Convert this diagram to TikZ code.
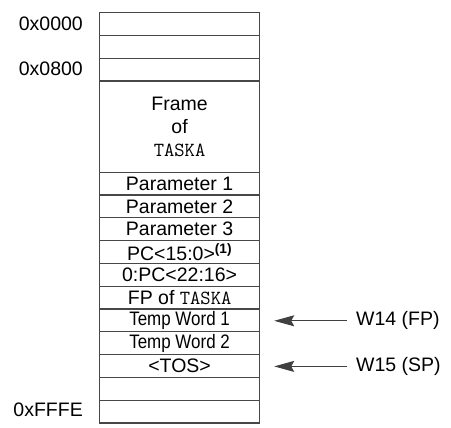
\documentclass[tikz,border=0pt]{standalone}
\usepackage{fontspec}
\setmainfont{Liberation Sans}
\usetikzlibrary{arrows.meta}
\begin{document}
\begin{tikzpicture}[x=1pt,y=-1pt,
  cell/.style={draw=black!72,line width=1.2pt,minimum width=160pt,minimum height=22.8pt,inner sep=0pt,anchor=north west,font=\fontsize{19.5}{22}\selectfont},
  addr/.style={anchor=east,inner sep=0pt,font=\fontsize{19.5}{22}\selectfont},
  ptr/.style={anchor=west,inner sep=0pt,font=\fontsize{19.5}{22}\selectfont},
  ptrarrow/.style={draw=black!75,line width=1pt,-{Stealth[length=20pt,width=11pt,inset=3pt]}}]
\useasboundingbox (0,0) rectangle (451,428);
\def\rh{22.8}
\newcommand\mytt[1]{{\ttfamily\fontsize{20}{22}\selectfont #1}}
\node[cell] (r1) at (99,12) {};
\node[cell] (r2) at (99,{12+1*\rh}) {};
\node[cell] (r3) at (99,{12+2*\rh}) {};
\node[cell,minimum height=91.2pt,align=center,font=\fontsize{19.5}{23}\selectfont] (frame) at (99,{12+3*\rh}) {Frame\\of\\\mytt{TASKA}};
\node[cell] (p1) at (99,{12+7*\rh}) {Parameter 1};
\node[cell] (p2) at (99,{12+8*\rh}) {Parameter 2};
\node[cell] (p3) at (99,{12+9*\rh}) {Parameter 3};
\node[cell] (pcl) at (99,{12+10*\rh}) {PC<15:0>\textsuperscript{\textbf{(1)}}};
\node[cell] (pch) at (99,{12+11*\rh}) {0:PC<22:16>};
\node[cell] (fp) at (99,{12+12*\rh}) {FP of \mytt{TASKA}};
\node[cell] (tw1) at (99,{12+13*\rh}) {\scalebox{0.87}[1]{Temp Word 1}};
\node[cell] (tw2) at (99,{12+14*\rh}) {\scalebox{0.87}[1]{Temp Word 2}};
\node[cell] (tos) at (99,{12+15*\rh}) {<TOS>};
\node[cell] (r17) at (99,{12+16*\rh}) {};
\node[cell] (r18) at (99,{12+17*\rh}) {};
\node[addr] (a0) at (83,{12+0.5*\rh}) {0x0000};
\node[addr] (a1) at (83,{12+2.5*\rh}) {0x0800};
\node[addr] (a2) at (83,{12+17.5*\rh-1}) {0xFFFE};
\node[ptr] (w14) at (356,{12+13.5*\rh+1}) {W14 (FP)};
\node[ptr] (w15) at (356,{12+15.5*\rh+1}) {W15 (SP)};
\coordinate (t14) at ([xshift=14pt]tw1.east |- w14.west);
\coordinate (t15) at ([xshift=14pt]tos.east |- w15.west);
\draw[ptrarrow] ([xshift=-9pt]w14.west) -- (t14);
\draw[ptrarrow] ([xshift=-9pt]w15.west) -- (t15);
\end{tikzpicture}
\end{document}
